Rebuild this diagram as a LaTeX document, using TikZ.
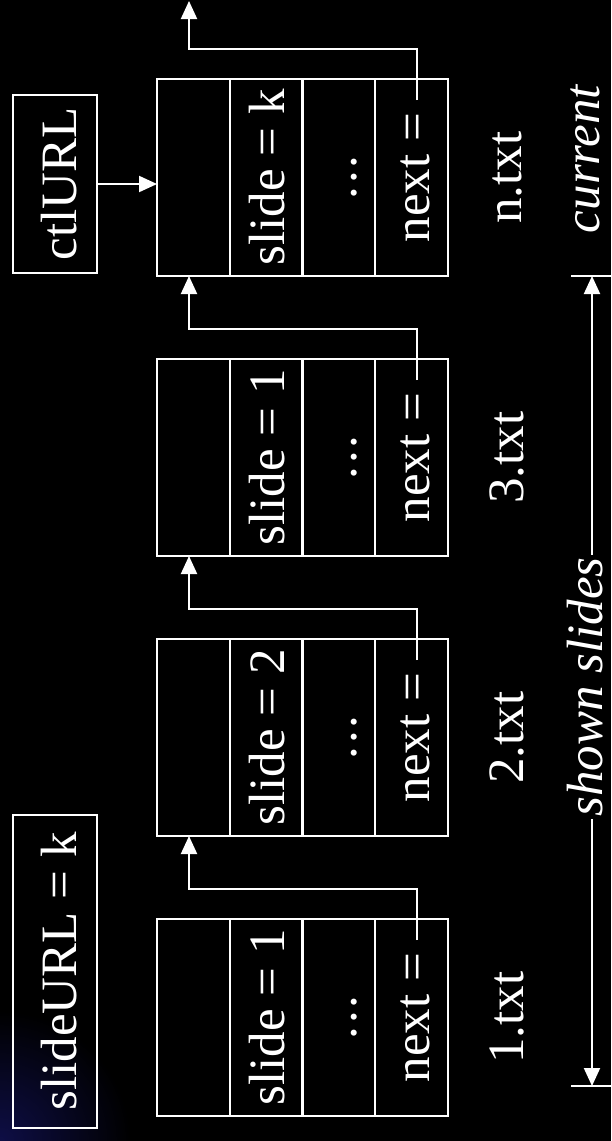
\documentclass[tikz,border=0pt]{standalone}
\usepackage{fontspec}
\setmainfont{Liberation Serif}
\usetikzlibrary{arrows.meta,positioning,calc}
\definecolor{glowblue}{RGB}{14,14,70}

\begin{document}
\begin{tikzpicture}[x=0.5pt,y=-0.5pt,
  txt/.style={text=white,font=\fontsize{25.5}{30}\selectfont},
  ital/.style={text=white,font=\fontsize{25.5}{30}\selectfont\itshape},
  cell/.style={txt,draw=white,line width=1pt,rotate=90,minimum width=98.5pt,
    minimum height=36.375pt,inner sep=0pt,outer sep=0pt,text height=18pt,text depth=0pt},
  urlbox/.style={txt,draw=white,line width=1pt,rotate=90,minimum height=42pt,
    inner sep=0pt,text height=21pt,text depth=0pt},
  lbl/.style={rotate=90,inner sep=1pt},
  link/.style={draw=white,line width=1pt,-{Triangle[length=9pt,width=8pt]}},
  tick/.style={draw=white,line width=1pt}
]
  % background
  \fill[black] (0,0) rectangle (611,1141);
  \begin{scope}
    \clip (0,0) rectangle (611,1141);
    \shade[inner color=glowblue,outer color=black] (0,1141) circle (130);
  \end{scope}
  \useasboundingbox (0,0) rectangle (611,1141);

  % url boxes
  \node[urlbox,minimum width=89pt] (ctl) at (55,184) {ctlURL};
  \node[urlbox,minimum width=156.5pt] (surl) at (55,971.5) {slideURL = k};

  % slide files, top to bottom
  \coordinate (exit) at (189,1);
  \foreach \nm/\ty/\sv/\fn/\pv in {f4/79/k/n/exit, f3/359/1/3/f4in, f2/639/2/2/f3in, f1/919/1/1/f2in}{
    \node[cell] (\nm a) at (193.4,\ty+98.5) {};
    \node[cell] (\nm b) at (266.1,\ty+98.5) {slide = \sv};
    \node[cell] (\nm c) at (338.9,\ty+98.5) {.\kern1.5pt.\kern1.5pt.};
    \node[cell] (\nm d) at (411.6,\ty+98.5) {next =};
    \node[lbl,txt] (\nm l) at (507,\ty+98.5) {\fn.txt};
    \coordinate (\nm in) at ([xshift=-2.2pt]\nm a.west);
    \coordinate (\nm s) at (417,\ty+21);
    \draw[link] (\nm s) -- ++(0,-51) -| (\pv);
  }

  \draw[link] (ctl.south) -- (ctl.south -| f4a.north);

  % shown / current
  \coordinate (ttop) at (592,276);
  \coordinate (tbot) at (592,1086);
  \draw[tick] ([xshift=-10.5pt]ttop) -- ([xshift=9.5pt]ttop);
  \draw[tick] ([xshift=-10.5pt]tbot) -- ([xshift=9.5pt]tbot);
  \node[lbl,ital] (cur) at (585,159) {current};
  \node[lbl,ital] (shown) at (585,687) {shown slides};
  \draw[link] (shown.east -| ttop) -- (ttop);
  \draw[link] (shown.west -| tbot) -- (tbot);
\end{tikzpicture}
\end{document}
